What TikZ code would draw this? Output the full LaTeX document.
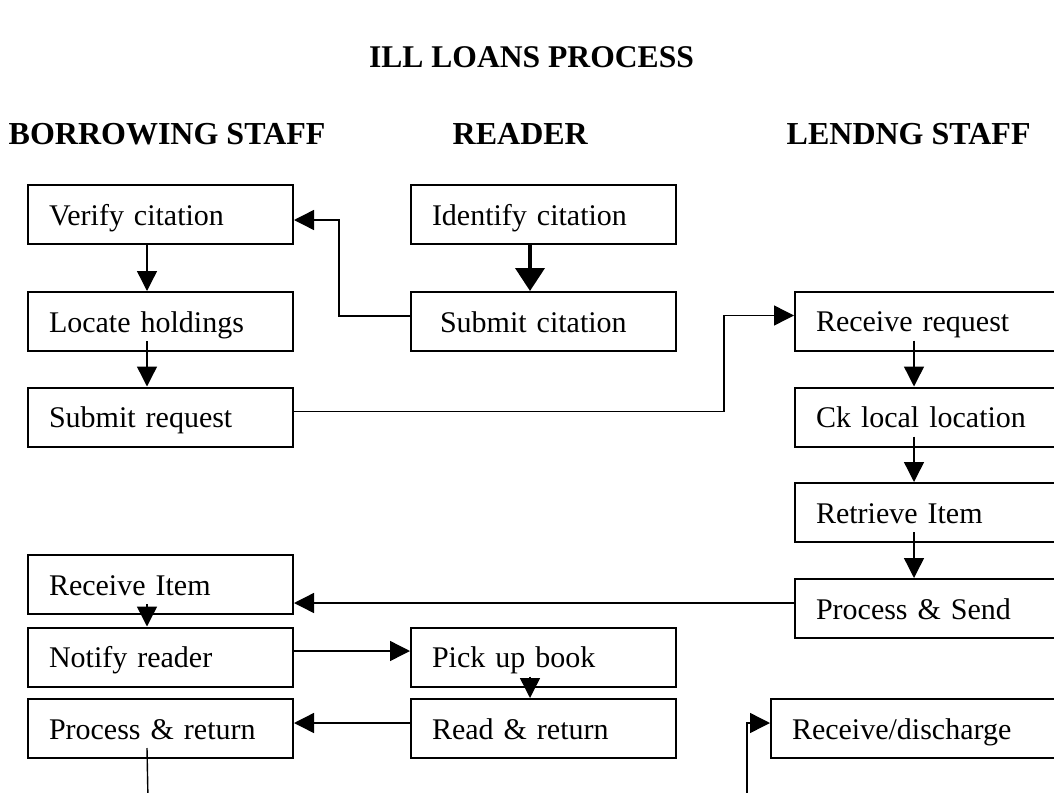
\documentclass[tikz,border=0pt]{standalone}
\usepackage{fontspec}
\setmainfont{Liberation Serif}
\usetikzlibrary{arrows.meta}

\begin{document}
\begin{tikzpicture}[x=0.5pt,y=-0.5pt,->,>={Triangle[length=10pt,width=10pt]},line width=0.7pt,
  task node/.style={rectangle,draw,line width=1pt,minimum width=132.5pt,minimum height=29.5pt,
    inner xsep=10.5pt,inner ysep=0pt,text width=111.5pt,text height=13pt,text depth=2.5pt,
    align=left,font=\fontsize{15}{18}\selectfont},
  head node/.style={anchor=base west,inner sep=0pt,font=\fontsize{16}{19}\selectfont\bfseries}]

  \useasboundingbox (0,0) rectangle (1054,792);

  \node[anchor=base,inner sep=0pt,font=\fontsize{15.8}{19}\selectfont\bfseries] (title) at (531.5,68) {ILL LOANS PROCESS};
  \node[head node] (bstaff) at (8,144) {BORROWING STAFF};
  \node[head node] (reader) at (452,144) {READER};
  \node[head node] (lstaff) at (786,144) {LENDNG STAFF};

  % borrowing staff
  \node[task node] (vc) at (160.5,214.5) {Verify citation};
  \node[task node] (lh) at (160.5,321.5) {Locate holdings};
  \node[task node] (sr) at (160.5,417) {Submit request};
  \node[task node] (ri) at (160.5,584.5) {Receive Item};
  \node[task node] (nr) at (160.5,657) {Notify reader};
  \node[task node] (pr) at (160.5,728.5) {Process \& return};

  % reader
  \node[task node] (ic) at (543.5,214.5) {Identify citation};
  \node[task node] (sc) at (543.5,321.5) {\hspace*{4pt}Submit citation};
  \node[task node] (pb) at (543.5,657) {Pick up book};
  \node[task node] (rr) at (543.5,728.5) {Read \& return};

  % lending staff
  \node[task node] (rq) at (927.5,321) {Receive request};
  \node[task node] (cl) at (927.5,417) {Ck local location};
  \node[task node] (rt) at (927.5,512.5) {Retrieve Item};
  \node[task node] (ps) at (927.5,608.5) {Process \& Send};
  \node[task node,minimum width=146pt,text width=125pt] (rd) at (917,728.5) {Receive/discharge};

  \coordinate (out) at (148,800);
  \coordinate (in) at (747,800);

  \path
    ([xshift=60pt]vc.south west) edge ([xshift=60pt]lh.north west)
    ([shift={(60pt,5.5pt)}]lh.south west) edge ([xshift=60pt]sr.north west)
    ([shift={(60pt,5.5pt)}]rq.south west) edge ([xshift=60pt]cl.north west)
    ([shift={(60pt,5.5pt)}]cl.south west) edge ([xshift=60pt]rt.north west)
    ([shift={(60pt,5.5pt)}]rt.south west) edge ([xshift=60pt]ps.north west)
    ([shift={(60pt,5.5pt)}]ri.south west) edge ([xshift=60pt]nr.north west)
    ([shift={(60pt,5.5pt)}]pb.south west) edge ([xshift=60pt]rr.north west)
    ([yshift=3pt]nr.east) edge ([yshift=3pt]pb.west)
    ([yshift=2.75pt]rr.west) edge ([yshift=2.75pt]pr.east)
    ;

  \draw[line width=2pt,-{Triangle[length=11.5pt,width=14.5pt]}]
    ([xshift=60pt]ic.south west) -- ([xshift=60pt]sc.north west);
  \draw ([yshift=2.75pt]sc.west) -- ++(-71,0) |- ([yshift=-2.75pt]vc.east);
  \draw ([yshift=2.75pt]sr.east) -- ++(430,0) |- ([yshift=2.75pt]rq.west);
  \draw ([yshift=2.75pt]ps.west) -- ([yshift=2.75pt]ps.west -| ri.east);
  \draw[-] ([shift={(60pt,5.5pt)}]pr.south west) -- (out);
  \draw (in) |- ([yshift=2.75pt]rd.west);
\end{tikzpicture}
\end{document}
